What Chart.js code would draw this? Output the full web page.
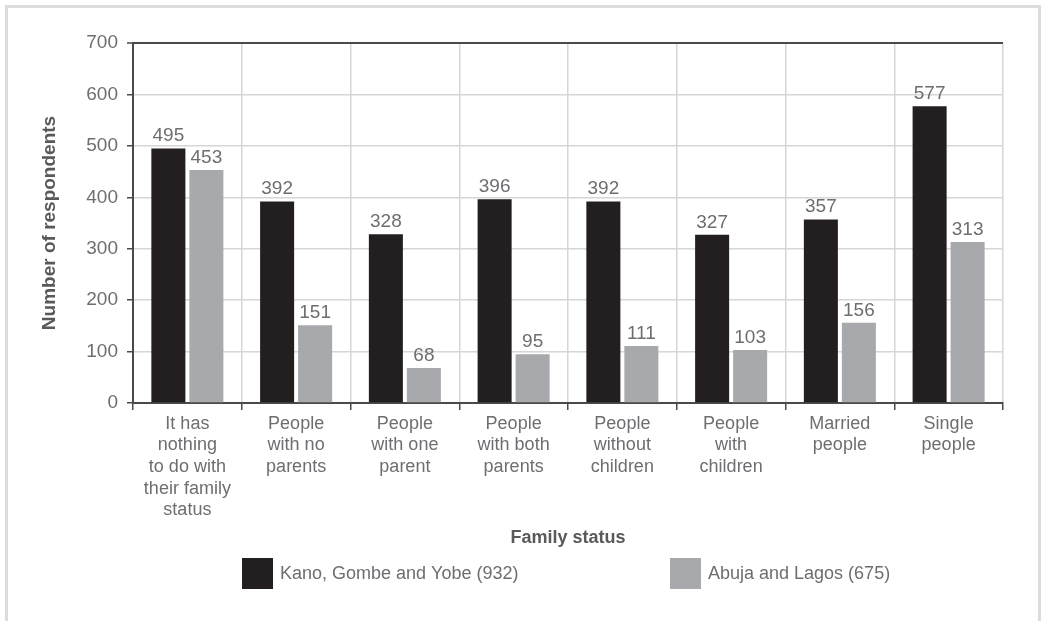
<!DOCTYPE html>
<html>
<head>
<meta charset="utf-8">
<script src="https://cdn.jsdelivr.net/npm/chart.js@4"></script>
<style>
  html, body { margin: 0; padding: 0; background: #fff; }
  #wrap { position: relative; width: 1042px; height: 621px; overflow: hidden; }
  #frame { position: absolute; left: 5px; top: 5px; width: 1030px; height: 700px; border: 3px solid #dcdcdc; box-sizing: content-box; }
  canvas { position: absolute; left: 0; top: 0; }
</style>
</head>
<body>
<div id="wrap">
  <div id="frame"></div>
  <canvas id="c" width="1042" height="621"></canvas>
</div>
<script>
const categories = [
  ['It has', 'nothing', 'to do with', 'their family', 'status'],
  ['People', 'with no', 'parents'],
  ['People', 'with one', 'parent'],
  ['People', 'with both', 'parents'],
  ['People', 'without', 'children'],
  ['People', 'with', 'children'],
  ['Married', 'people'],
  ['Single', 'people']
];
const seriesNames = ['Kano, Gombe and Yobe (932)', 'Abuja and Lagos (675)'];
const northValues = [495, 392, 328, 396, 392, 327, 357, 577];
const southValues = [453, 151, 68, 95, 111, 103, 156, 313];
const yTicks = [0, 100, 200, 300, 400, 500, 600, 700];

const FONT = "'Liberation Sans', Arial, Helvetica, sans-serif";
const TXT = '#6d6e71';
const DARK = '#4a4a4a';
const GRID = '#d6d6d6';

const valueLabels = {
  id: 'valueLabels',
  afterDatasetsDraw(chart) {
    const ctx = chart.ctx;
    ctx.save();
    ctx.font = '19px ' + FONT;
    ctx.fillStyle = TXT;
    ctx.textAlign = 'center';
    ctx.textBaseline = 'alphabetic';
    chart.data.datasets.forEach((ds, di) => {
      chart.getDatasetMeta(di).data.forEach((bar, i) => {
        ctx.fillText(String(ds.data[i]), bar.x, bar.y - 7);
      });
    });
    ctx.restore();
  }
};

const customLegend = {
  id: 'customLegend',
  afterDraw(chart) {
    const ctx = chart.ctx;
    ctx.save();
    ctx.font = '18px ' + FONT;
    ctx.textBaseline = 'middle';
    ctx.textAlign = 'left';
    const starts = [242, 670];
    const box = 31, y = 558;
    chart.data.datasets.forEach((ds, di) => {
      const x = starts[di];
      ctx.fillStyle = ds.backgroundColor;
      ctx.fillRect(x, y, box, box);
      ctx.fillStyle = TXT;
      ctx.fillText(ds.label, x + box + 7, y + box / 2 + 1);
    });
    ctx.restore();
  }
};

new Chart(document.getElementById('c'), {
  type: 'bar',
  data: {
    labels: categories,
    datasets: [
      { label: seriesNames[0], data: northValues, backgroundColor: '#231f20', categoryPercentage: 0.699, barPercentage: 0.895 },
      { label: seriesNames[1], data: southValues, backgroundColor: '#a7a9ac', categoryPercentage: 0.699, barPercentage: 0.895 }
    ]
  },
  options: {
    responsive: false,
    animation: false,
    events: [],
    layout: { padding: { left: 38, right: 39, top: 43, bottom: 72 } },
    plugins: {
      legend: { display: false },
      tooltip: { enabled: false }
    },
    scales: {
      x: {
        offset: true,
        grid: {
          offset: true,
          color: (c) => (c.index === categories.length ? DARK : GRID),
          lineWidth: (c) => (c.index === categories.length ? 2 : 1.5),
          tickColor: DARK,
          tickWidth: 1.5,
          tickLength: 7,
          drawOnChartArea: true
        },
        border: { color: DARK, width: 2 },
        ticks: {
          color: TXT,
          font: { family: FONT, size: 18, lineHeight: 1.2 },
          padding: 3,
          maxRotation: 0,
          autoSkip: false
        },
        title: {
          display: true,
          text: 'Family status',
          color: '#58595b',
          font: { family: FONT, size: 18, weight: 'bold', lineHeight: 1.2 },
          padding: 0
        },
        afterFit: (s) => { s.height = 146; }
      },
      y: {
        min: 0,
        max: 700,
        afterBuildTicks: (s) => { s.ticks = yTicks.map(v => ({ value: v })); },
        grid: {
          color: (c) => (c.tick && c.tick.value === 700 ? DARK : GRID),
          lineWidth: (c) => (c.tick && c.tick.value === 700 ? 2 : 1.5),
          tickColor: DARK,
          tickWidth: 1.5,
          tickLength: 6
        },
        border: { color: DARK, width: 2 },
        ticks: {
          color: TXT,
          font: { family: FONT, size: 19 },
          padding: 9
        },
        title: {
          display: true,
          text: 'Number of respondents',
          color: '#58595b',
          font: { family: FONT, size: 19, weight: 'bold', lineHeight: 1.2 },
          padding: 0
        },
        afterFit: (s) => { s.width = 95; }
      }
    }
  },
  plugins: [valueLabels, customLegend]
});
</script>
</body>
</html>
